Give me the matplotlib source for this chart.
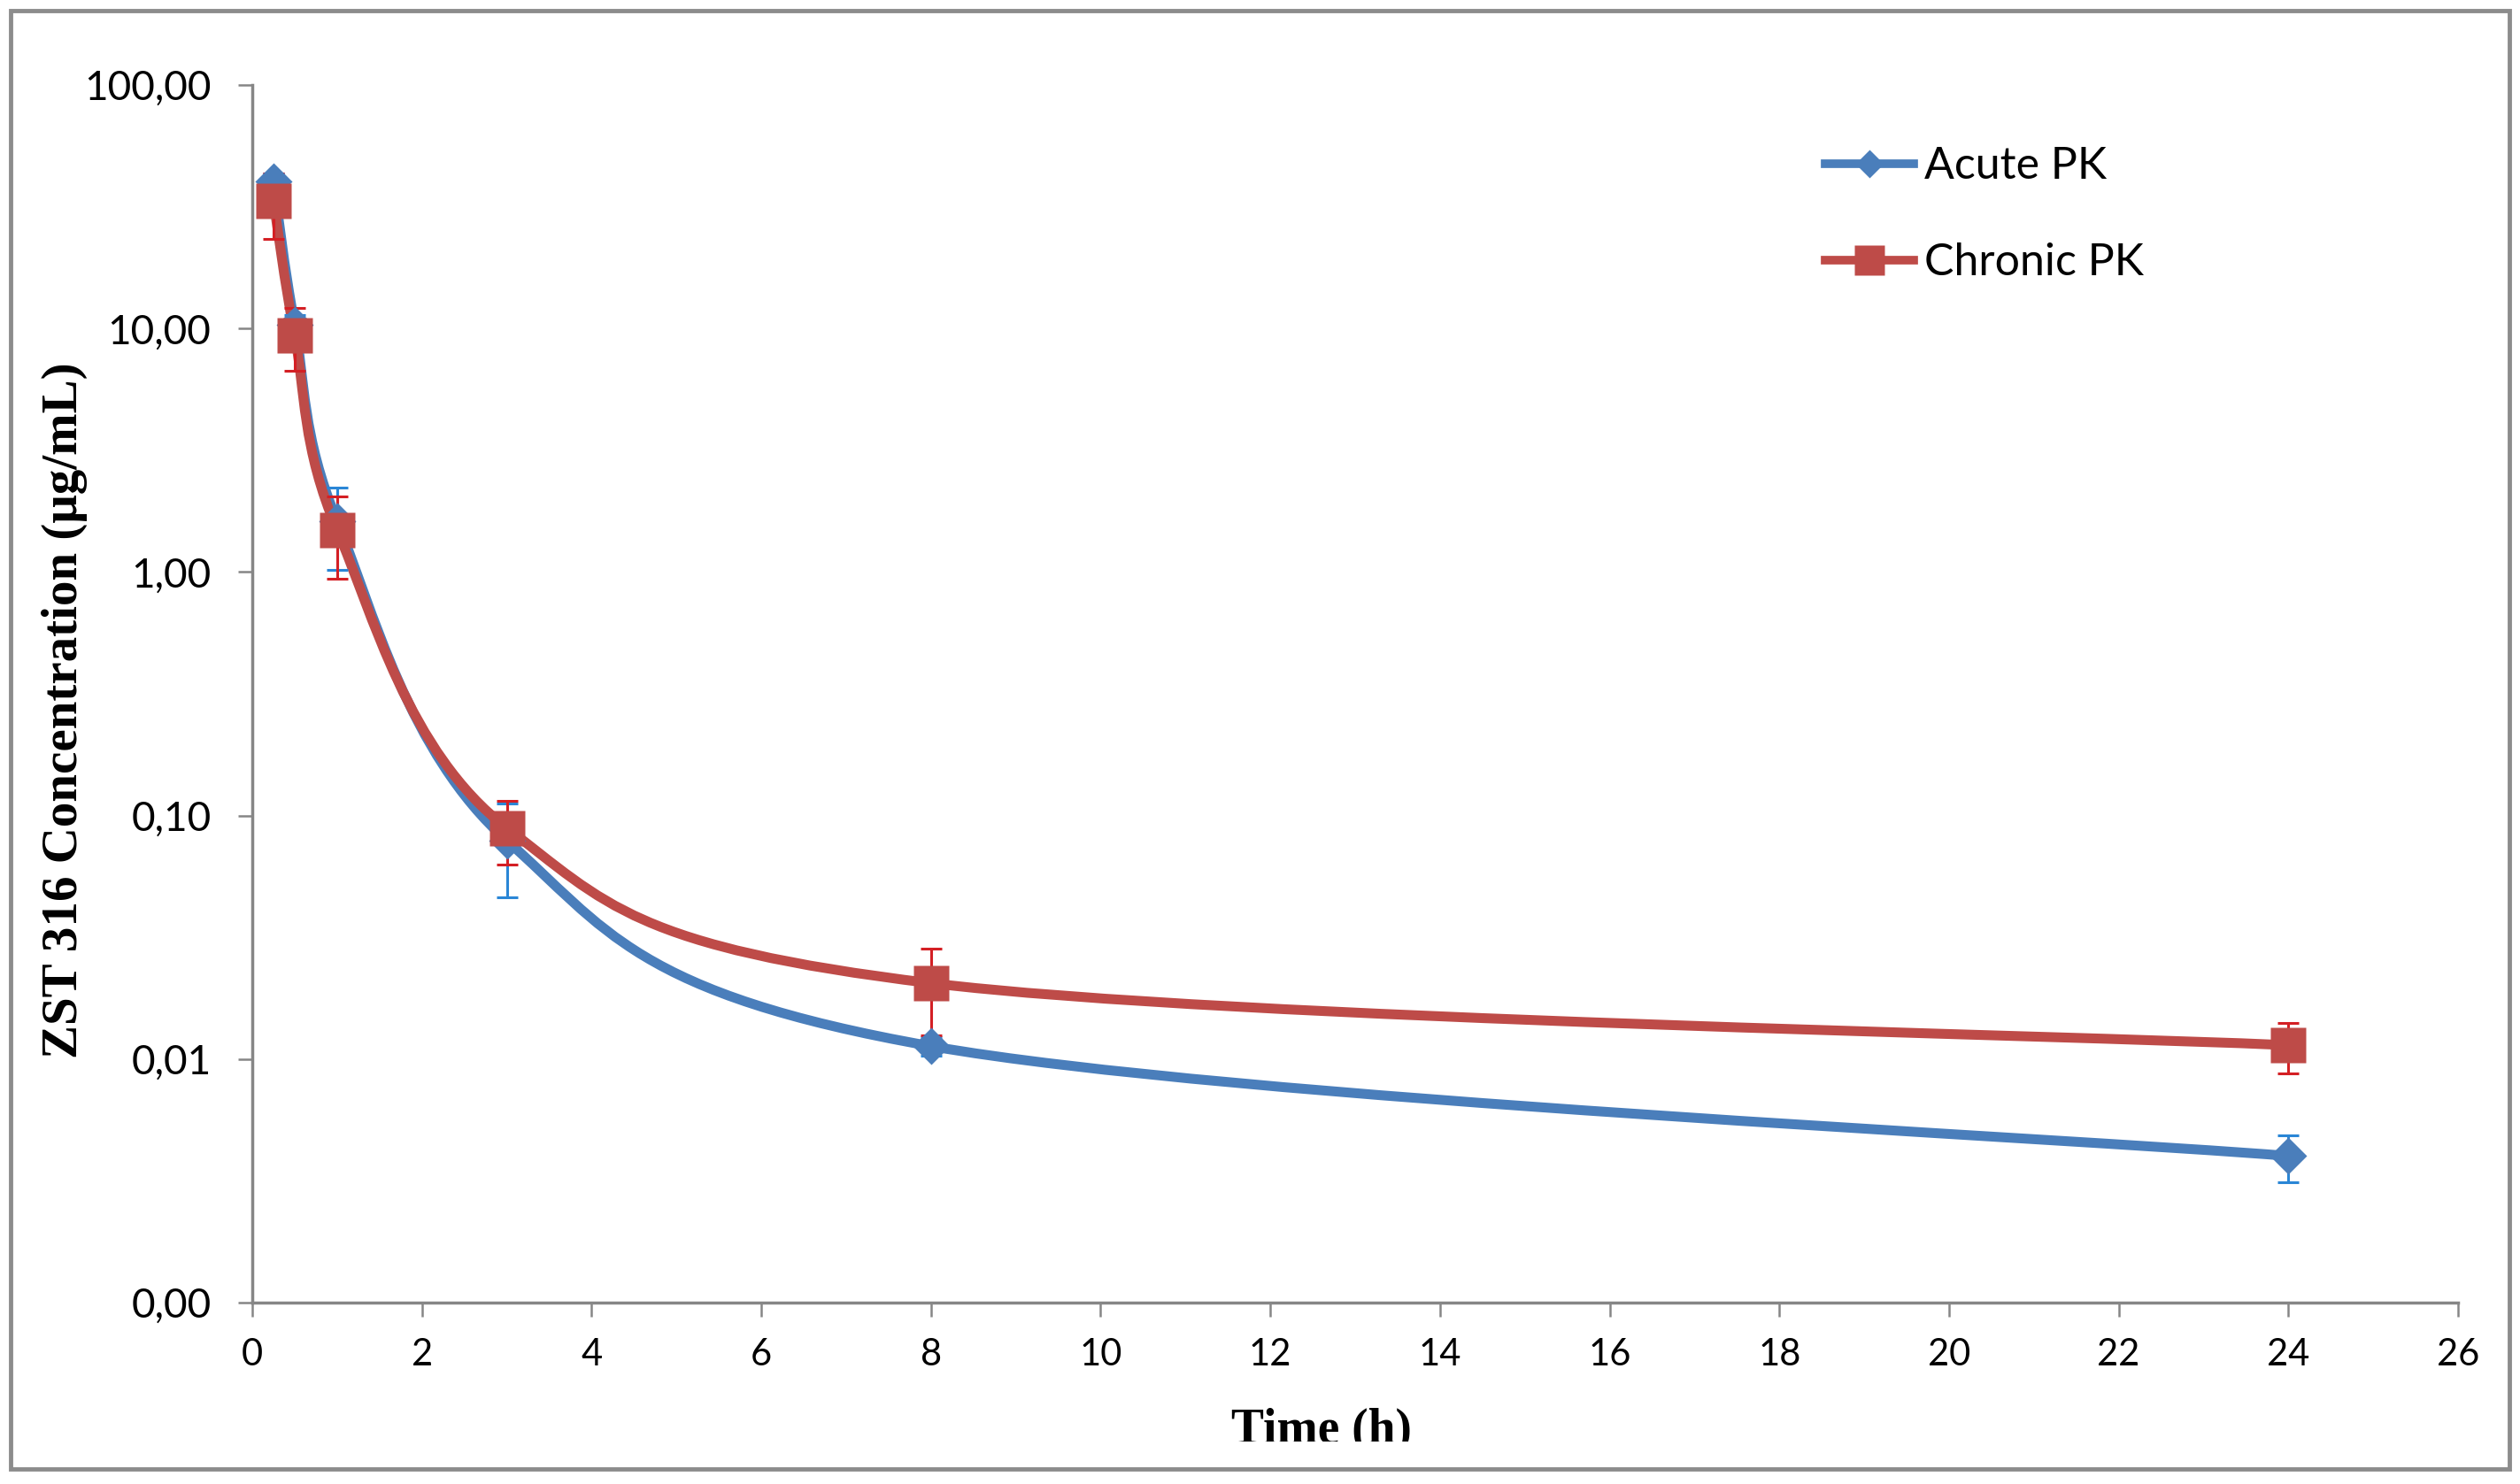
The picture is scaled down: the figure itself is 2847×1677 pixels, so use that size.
import matplotlib
matplotlib.use('Agg')  # no display
import matplotlib.pyplot as plt
import numpy as np
from matplotlib.path import Path
from matplotlib.patches import PathPatch, Rectangle
from matplotlib.lines import Line2D
from matplotlib.ticker import FuncFormatter, FixedLocator, NullLocator

# data
time_h = [0.25, 0.5, 1, 3, 8, 24]
acute_pk = [40.2, 10.4, 1.62, 0.079, 0.0113, 0.0040]
acute_sd = [3.0, 1.0, 0.60, 0.033, 0.001, 0.00088]
chronic_pk = [33.4, 9.4, 1.49, 0.089, 0.0205, 0.0114]
chronic_sd = [10.0, 2.7, 0.55, 0.026, 0.008, 0.0027]
series_labels = ['Acute PK', 'Chronic PK']
x_ticks = list(range(0, 27, 2))
y_ticks = [0.001, 0.01, 0.1, 1, 10, 100]

blue = '#4a7ebb'
red = '#be4b48'
blue_err = '#2a86d6'
red_err = '#d41f24'
grey = '#868686'

plt.rcParams['font.family'] = ['Lato', 'DejaVu Sans']


def smooth_path(x, y):
    # Excel style smoothed line: cubic bezier, control points from the neighbours (log y)
    px = np.asarray(x, float)
    py = np.log10(y)
    n = len(px)
    verts = [(px[0], py[0])]
    codes = [Path.MOVETO]
    for i in range(n - 1):
        a = max(i - 1, 0)
        b = min(i + 2, n - 1)
        c1 = (px[i] + (px[i + 1] - px[a]) / 6, py[i] + (py[i + 1] - py[a]) / 6)
        c2 = (px[i + 1] - (px[b] - px[i]) / 6, py[i + 1] - (py[b] - py[i]) / 6)
        verts += [c1, c2, (px[i + 1], py[i + 1])]
        codes += [Path.CURVE4] * 3
    verts = np.array(verts)
    verts[:, 1] = 10 ** verts[:, 1]
    return Path(verts, codes)


W, H = 2847, 1677
fig = plt.figure(figsize=(W / 100, H / 100), dpi=100)
ax = fig.add_axes([285 / W, 1 - 1472 / H, (2777 - 285) / W, (1472 - 96) / H])
ax.set_yscale('log')
ax.set_xlim(0, 26)
ax.set_ylim(0.001, 100)

# smoothed lines (red on top of blue)
ax.add_patch(PathPatch(smooth_path(time_h, acute_pk), fill=False, edgecolor=blue,
                       lw=8, capstyle='round', joinstyle='round', zorder=2))
ax.add_patch(PathPatch(smooth_path(time_h, chronic_pk), fill=False, edgecolor=red,
                       lw=8, capstyle='round', joinstyle='round', zorder=3))

# error bars
ax.errorbar(time_h, acute_pk, yerr=acute_sd, fmt='none', ecolor=blue_err,
            elinewidth=2.2, capsize=8.5, capthick=2.2, zorder=4)
ax.errorbar(time_h, chronic_pk, yerr=chronic_sd, fmt='none', ecolor=red_err,
            elinewidth=2.2, capsize=8.5, capthick=2.2, zorder=5)

# markers
ax.plot(time_h, acute_pk, linestyle='none', marker='D', ms=21.5, color=blue, mec='none', zorder=6)
ax.plot(time_h, chronic_pk, linestyle='none', marker='s', ms=29.5, color=red, mec='none', zorder=7)

# axes look
for side in ['top', 'right']:
    ax.spines[side].set_visible(False)
for side in ['left', 'bottom']:
    ax.spines[side].set_color(grey)
    ax.spines[side].set_linewidth(2.5)
ax.xaxis.set_major_locator(FixedLocator(x_ticks))
ax.yaxis.set_major_locator(FixedLocator(y_ticks))
ax.yaxis.set_minor_locator(NullLocator())
ax.yaxis.set_major_formatter(FuncFormatter(lambda v, p: ('%.2f' % v).replace('.', ',')))
ax.tick_params(axis='both', direction='out', length=11.5, width=1.8, color=grey)
ax.tick_params(axis='x', labelsize=30, pad=17)
ax.tick_params(axis='y', labelsize=33, pad=22)

# legend
handles = [Line2D([], [], color=blue, lw=7, marker='D', ms=16.5, mec='none'),
           Line2D([], [], color=red, lw=7, marker='s', ms=25, mec='none')]
ax.legend(handles, series_labels, loc='upper left', bbox_to_anchor=(2062 / W, 1 - 165 / H),
          bbox_transform=fig.transFigure, frameon=False, borderpad=0, borderaxespad=0,
          fontsize=36, handlelength=2.0, handletextpad=0.25, labelspacing=1.26)

# axis titles
fig.text(73 / W, 1 - 803 / H, 'ZST 316 Concentration (μg/mL)', rotation=90, ha='center', va='center',
         fontfamily='Liberation Serif', fontweight='bold', fontsize=41)
xl = fig.text(1493 / W, 1 - 1631 / H, 'Time (h)', ha='center', va='baseline',
              fontfamily='Liberation Serif', fontweight='bold', fontsize=40)
clip = Rectangle((0, 1 - 1629 / H), 1, 1629 / H, transform=fig.transFigure)
xl.set_clip_path(clip)

# outer frame
fig.patches.append(Rectangle((12 / W, 1 - 1660 / H), (2835 - 12) / W, (1660 - 12) / H,
                             transform=fig.transFigure, fill=False, edgecolor='#8c8c8c', lw=3.5))

fig.savefig('out.png', dpi=100)
